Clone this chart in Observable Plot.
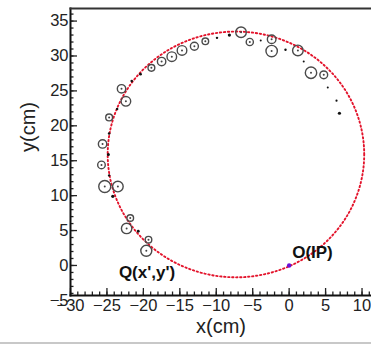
<!DOCTYPE html>
<html><head><meta charset="utf-8">
<script src="https://cdn.jsdelivr.net/npm/d3@7"></script>
<script src="https://cdn.jsdelivr.net/npm/@observablehq/plot@0.6"></script>
<style>
html,body{margin:0;padding:0;background:#fff;}
#chart{width:371px;height:342px;}
#strip{width:371px;height:2px;background:#c8c8c8;}
</style></head><body>
<div id="chart"></div><div id="strip"></div>
<script>
// Hits drawn as open circles (x, y in cm, signal amplitude)
const hitX = [-25.6, -25.75, -24.7, -23.0, -22.4, -18.9, -17.5, -16.1, -14.7, -13.0, -11.5, -6.6, -5.4, -2.4, -2.4, 1.2, 3.0, 4.75, -25.3, -23.5, -21.8, -22.3, -19.3, -19.6];
const hitY = [17.4, 14.4, 21.2, 25.3, 23.5, 28.3, 29.2, 29.9, 30.8, 31.4, 32.1, 33.4, 32.0, 32.4, 30.7, 30.8, 27.6, 27.3, 11.3, 11.3, 6.8, 5.3, 3.7, 2.1];
const hitAmp = [4.2, 3.8, 3.4, 4.2, 4.8, 3.4, 4.2, 4.8, 4.8, 4.0, 3.3, 5.3, 3.6, 4.3, 5.7, 5.3, 5.7, 3.9, 6.0, 5.3, 3.3, 5.2, 3.3, 5.5];

// Small hits drawn as dots
const dotX = [-24.8, -24.7, -23.6, -21.6, -20.4, -9.9, -8.2, -3.9, -0.5, 2.0, 5.3, 6.5, 6.9, -24.7, -24.2, -20.7];
const dotY = [15.9, 18.9, 22.4, 26.4, 27.4, 32.6, 33.0, 32.2, 30.9, 29.2, 25.5, 23.6, 21.8, 12.9, 9.9, 4.9];
const dotAmp = [1.5, 1.3, 1.2, 1.3, 1.4, 1.2, 1.6, 1.0, 1.2, 1.0, 1.0, 1.1, 1.6, 1.2, 1.6, 1.4];

// Fitted circle parameters (cm)
const fitCenterX = -7.3, fitCenterY = 15.9, fitRadius = 17.6;

// Interaction point
const ipX = [0], ipY = [0];

// Annotations
const noteText = ["Q(x',y')", "O(IP)"];
const noteX = [-19.5, 3.2];
const noteY = [-1.0, 1.8];

// Axis ticks
const xTicks = [-30, -25, -20, -15, -10, -5, 0, 5, 10];
const yTicks = [-5, 0, 5, 10, 15, 20, 25, 30, 35];
const xMinor = d3.range(-30, 12, 1);
const yMinor = d3.range(-4, 37, 1);

const hits = hitX.map((x, i) => ({x, y: hitY[i], amp: hitAmp[i]}));
const dots = dotX.map((x, i) => ({x, y: dotY[i], amp: dotAmp[i]}));
const ip = ipX.map((x, i) => ({x, y: ipY[i]}));
const notes = noteText.map((t, i) => ({t, x: noteX[i], y: noteY[i]}));
const fit = d3.range(0, 361, 2).map(a => ({
  x: fitCenterX + fitRadius * Math.cos(a * Math.PI / 180),
  y: fitCenterY + fitRadius * Math.sin(a * Math.PI / 180)
}));

const font = "Liberation Sans, Arial, Helvetica, sans-serif";

const chart = Plot.plot({
  width: 371,
  height: 342,
  marginLeft: 70,
  marginRight: 0,
  marginTop: 8,
  marginBottom: 47,
  style: {background: "#fff", fontFamily: font},
  x: {domain: [-30, 11.3], axis: null},
  y: {domain: [-4.3, 36.8], axis: null},
  r: {type: "linear", domain: [0, 6], range: [0, 6]},
  marks: [
    Plot.line(fit, {x: "x", y: "y", stroke: "#e3132b", strokeWidth: 1.9, strokeDasharray: "1.4,2.6"}),
    Plot.dot(hits, {x: "x", y: "y", r: "amp", stroke: "#4a4a4a", strokeWidth: 1.4, fill: "none"}),
    Plot.dot(hits, {x: "x", y: "y", r: 1, fill: "#444", stroke: "none"}),
    Plot.dot(dots, {x: "x", y: "y", r: "amp", fill: "#111", stroke: "none"}),
    Plot.dot(ip, {x: "x", y: "y", r: 2.2, fill: "#6a10d8", stroke: "none"}),
    Plot.text(notes, {x: "x", y: "y", text: "t", fontSize: 17, fontWeight: "bold", fill: "#111", fontFamily: font}),
    // ticks (inside)
    Plot.axisX({ticks: xMinor, tickSize: -3.5, fill: "none", stroke: "#222", strokeWidth: 1.3, label: null}),
    Plot.axisX({ticks: xTicks, tickSize: -7, fill: "none", stroke: "#222", strokeWidth: 1.3, label: null}),
    Plot.axisY({ticks: yMinor, tickSize: -3.5, fill: "none", stroke: "#222", strokeWidth: 1.3, label: null}),
    Plot.axisY({ticks: yTicks.filter(d => d >= -4.3), tickSize: -7, fill: "none", stroke: "#222", strokeWidth: 1.3, label: null}),
    // tick labels
    Plot.axisX({ticks: xTicks, tickSize: 0, tickPadding: 4, fontSize: 16.5, fill: "#222", fontFamily: font, label: null}),
    Plot.axisY({ticks: yTicks, tickSize: 0, tickPadding: 2, fontSize: 16.5, fill: "#222", fontFamily: font, label: null}),
    // axis titles
    Plot.text(["x(cm)"], {frameAnchor: "bottom", dy: 37, fontSize: 20, fill: "#222", fontFamily: font}),
    Plot.text(["y(cm)"], {frameAnchor: "left", dx: -42, rotate: -90, fontSize: 20, fill: "#222", fontFamily: font}),
    // frame lines
    Plot.frame({anchor: "left", stroke: "#111", strokeWidth: 2}),
    Plot.frame({anchor: "bottom", stroke: "#111", strokeWidth: 2}),
    Plot.frame({anchor: "top", stroke: "#333", strokeWidth: 2})
  ]
});
document.getElementById("chart").appendChild(chart);
</script>
</body></html>
